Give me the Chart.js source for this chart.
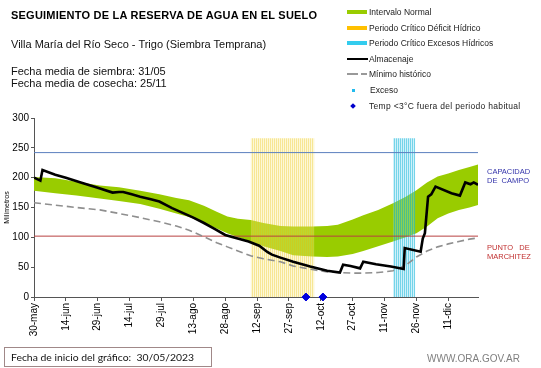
<!DOCTYPE html>
<html>
<head>
<meta charset="utf-8">
<script src="https://cdn.jsdelivr.net/npm/chart.js@4"></script>
<style>
	body { margin: 0; background: #fff; }
	#lienzo { position: relative; width: 541px; height: 368px; overflow: hidden; font-family: "Liberation Sans", Arial, sans-serif; }
	#grafico { position: absolute; left: 0; top: 0; }
	.t { position: absolute; white-space: nowrap; line-height: 1; }
	.ley { font-size: 8.5px; color: #222; left: 369px; }
	.sw { position: absolute; }
</style>
</head>
<body>
<div id="lienzo">
	<canvas id="grafico" width="541" height="368"></canvas>

	<div class="t" style="left:11px;top:10px;font-size:11px;font-weight:bold;color:#000;letter-spacing:0.22px">SEGUIMIENTO DE LA RESERVA DE AGUA EN EL SUELO</div>
	<div class="t" style="left:11px;top:39px;font-size:11px;color:#111">Villa María del Río Seco - Trigo (Siembra Temprana)</div>
	<div class="t" style="left:11px;top:66px;font-size:11px;color:#111">Fecha media de siembra: 31/05</div>
	<div class="t" style="left:11px;top:78px;font-size:11px;color:#111">Fecha media de cosecha: 25/11</div>

	<!-- leyenda -->
	<div class="sw" style="left:347px;top:10px;width:20px;height:4px;background:#99cc00"></div>
	<div class="t ley" style="top:8px">Intervalo Normal</div>
	<div class="sw" style="left:347px;top:26px;width:20px;height:4px;background:#ffc000"></div>
	<div class="t ley" style="top:23.5px">Periodo Crítico Déficit Hídrico</div>
	<div class="sw" style="left:347px;top:41px;width:20px;height:4px;background:#33ccee"></div>
	<div class="t ley" style="top:39px">Periodo Crítico Excesos Hídricos</div>
	<div class="sw" style="left:347px;top:57.5px;width:21px;height:2px;background:#000"></div>
	<div class="t ley" style="top:54.5px">Almacenaje</div>
	<div class="sw" style="left:347px;top:73px;width:11px;height:2px;background:#999"></div>
	<div class="sw" style="left:361px;top:73px;width:6px;height:2px;background:#999"></div>
	<div class="t ley" style="top:70px">Mínimo histórico</div>
	<div class="sw" style="left:352px;top:89px;width:3px;height:3px;background:#22bbee"></div>
	<div class="t ley" style="top:86px;left:370px">Exceso</div>
	<div class="sw" style="left:351px;top:103.5px;width:4px;height:4px;background:#0000cc;transform:rotate(45deg)"></div>
	<div class="t ley" style="top:101.5px;letter-spacing:0.3px">Temp &lt;3°C fuera del periodo habitual</div>

	<div class="t" style="left:487px;top:167px;font-size:7.5px;color:#3333aa;line-height:9px">CAPACIDAD<br>DE&nbsp; CAMPO</div>
	<div class="t" style="left:487px;top:243px;font-size:7.5px;color:#c03030;line-height:9px">PUNTO&nbsp;&nbsp; DE<br>MARCHITEZ</div>

	<div class="t" style="left:4px;top:347px;width:206px;height:18px;border:1px solid #a08888"></div>
	<div class="t" style="left:11px;top:352px;font-size:10.4px;color:#111;font-family:Lato, sans-serif">Fecha de inicio del gráfico:&nbsp;&nbsp;30/05/2023</div>
	<div class="t" style="left:427px;top:353.5px;font-size:10px;color:#808080">WWW.ORA.GOV.AR</div>
</div>

<script>
// dias contados desde el 30-may
const dias = [0, 10, 20, 31, 40, 50, 59, 67, 73, 80, 86, 91, 96, 102, 108, 116, 122, 131, 138, 143, 150, 155, 162, 169, 175, 180, 185, 190, 195, 200, 205, 209];
const normalSup = [201, 199, 193, 187, 184, 178, 172, 166, 162, 153, 143, 135, 131, 129, 124, 119, 118, 118, 119, 121, 130, 137, 146, 157, 168, 179, 192, 202, 207, 213, 218, 222];
const normalInf = [178, 174, 170, 165, 161, 156, 148, 140, 134, 124, 115, 107, 100, 93, 85, 77, 70, 68, 67, 68, 72, 77, 85, 93, 100, 107, 118, 132, 140, 146, 150, 154];
const minimoHist = [158, 154, 150, 146, 140, 133, 126, 119, 112, 101, 91, 84, 77, 69, 64, 59, 52, 46, 42, 41, 40, 40, 41, 44, 53, 67, 77, 84, 89, 93, 97, 99];

const diasAlm = [0, 3, 4, 10, 15, 22, 30, 37, 40, 42, 46, 50, 55, 59, 65, 70, 75, 80, 85, 90, 95, 101, 106, 110, 112, 116, 122, 130, 138, 144, 145.5, 149, 153.5, 155, 161, 168, 174, 174.5, 182, 183, 184, 185.5, 187, 189, 196.5, 200.5, 203, 205.5, 207, 209];
const almacenaje = [200, 195, 213, 205, 200, 192, 183, 175, 176, 176, 172, 168, 164, 160, 149, 141, 133, 124, 114, 104, 99, 93, 86, 75, 71, 66, 59, 51, 44, 41, 54, 52, 48, 59, 55, 51, 47, 82, 76, 98, 107, 168, 172, 185, 174, 170, 192, 189, 192, 188];

const diasTemp = [128, 136];
const tempFria = [0, 0];

const periodoDeficit = [102, 132];
const periodoExceso = [169, 179.5];
const altoPeriodo = 266;

const capacidadCampo = 242;
const puntoMarchitez = 102;
const diaFinal = 209;

const diasEtiquetas = [0, 15, 30, 45, 60, 75, 90, 105, 120, 135, 150, 165, 180, 195];
const etiquetas = ["30-may", "14-jun", "29-jun", "14-jul", "29-jul", "13-ago", "28-ago", "12-sep", "27-sep", "12-oct", "27-oct", "11-nov", "26-nov", "11-dic"];

//------------utilidades----------
const puntos = (xs, ys) => xs.map((x, i) => ({ x: x, y: ys[i] }));
const franja = (rango) => rango.map((x) => ({ x: x, y: altoPeriodo }));
const horizontal = (valor) => [{ x: 0, y: valor }, { x: diaFinal, y: valor }];

const ctx = document.getElementById("grafico").getContext("2d");
const rayas = (c1, c2) => {
	const p = document.createElement("canvas");
	p.width = 2;
	p.height = 1;
	const g = p.getContext("2d");
	g.fillStyle = c1;
	g.fillRect(0, 0, 1, 1);
	g.fillStyle = c2;
	g.fillRect(1, 0, 1, 1);
	return ctx.createPattern(p, "repeat");
};
//--------------------------------

Chart.defaults.font.family = "'Liberation Sans', Arial, sans-serif";

const lineaBase = { pointRadius: 0, tension: 0, fill: false };

const grafico = new Chart(ctx, {
	type: "line",
	data: {
		datasets: [
			{
				label: "Temp <3°C fuera del periodo habitual",
				data: puntos(diasTemp, tempFria),
				showLine: false,
				pointStyle: "rectRot",
				pointRadius: 4,
				pointBackgroundColor: "#0000dd",
				pointBorderColor: "#0000dd",
				clip: false,
			},
			{ ...lineaBase, label: "Almacenaje", data: puntos(diasAlm, almacenaje), borderColor: "#000", borderWidth: 2.6 },
			{ ...lineaBase, label: "Mínimo histórico", data: puntos(dias, minimoHist), borderColor: "#8f8f8f", borderWidth: 1.6, borderDash: [7, 4] },
			{ ...lineaBase, label: "Capacidad de campo", data: horizontal(capacidadCampo), borderColor: "#5b7fbe", borderWidth: 1 },
			{ ...lineaBase, label: "Punto de marchitez", data: horizontal(puntoMarchitez), borderColor: "#b84040", borderWidth: 1 },
			{
				...lineaBase,
				label: "Periodo Crítico Excesos Hídricos",
				data: franja(periodoExceso),
				borderWidth: 0,
				fill: "origin",
				backgroundColor: rayas("rgba(30,185,220,0.62)", "rgba(120,215,240,0.35)"),
			},
			{
				...lineaBase,
				label: "Periodo Crítico Déficit Hídrico",
				data: franja(periodoDeficit),
				borderWidth: 0,
				fill: "origin",
				backgroundColor: rayas("rgba(240,210,60,0.55)", "rgba(250,235,140,0.35)"),
			},
			{
				...lineaBase,
				label: "Intervalo Normal",
				data: puntos(dias, normalSup),
				borderWidth: 0,
				borderColor: "rgba(0,0,0,0)",
				fill: "+1",
				backgroundColor: "#99cc00",
			},
			{ ...lineaBase, label: "Intervalo Normal inf", data: puntos(dias, normalInf), borderWidth: 0, borderColor: "rgba(0,0,0,0)" },
		],
	},
	options: {
		responsive: false,
		animation: false,
		devicePixelRatio: 1,
		layout: { padding: { left: 0, right: 63, top: 118, bottom: 0 } },
		plugins: {
			legend: { display: false },
			tooltip: { enabled: false },
		},
		scales: {
			x: {
				type: "linear",
				min: 0,
				max: diaFinal,
				afterBuildTicks: (s) => {
					s.ticks = diasEtiquetas.map((v) => ({ value: v }));
				},
				afterFit: (s) => {
					s.height = 71;
				},
				border: { color: "#555", width: 1 },
				grid: { drawOnChartArea: false, tickLength: 4, color: "#555" },
				ticks: {
					autoSkip: false,
					minRotation: 90,
					maxRotation: 90,
					padding: 2,
					color: "#000",
					font: { size: 10 },
					callback: (v) => etiquetas[diasEtiquetas.indexOf(v)],
				},
			},
			y: {
				min: 0,
				max: 300,
				afterFit: (s) => {
					s.width = 34;
				},
				border: { color: "#555", width: 1 },
				grid: { drawOnChartArea: false, tickLength: 3, color: "#555" },
				ticks: { stepSize: 50, padding: 2, color: "#000", font: { size: 10 } },
				title: { display: true, text: "Milímetros", color: "#000", font: { size: 7 }, padding: { top: 3, bottom: 0 } },
			},
		},
	},
});
</script>
</body>
</html>
